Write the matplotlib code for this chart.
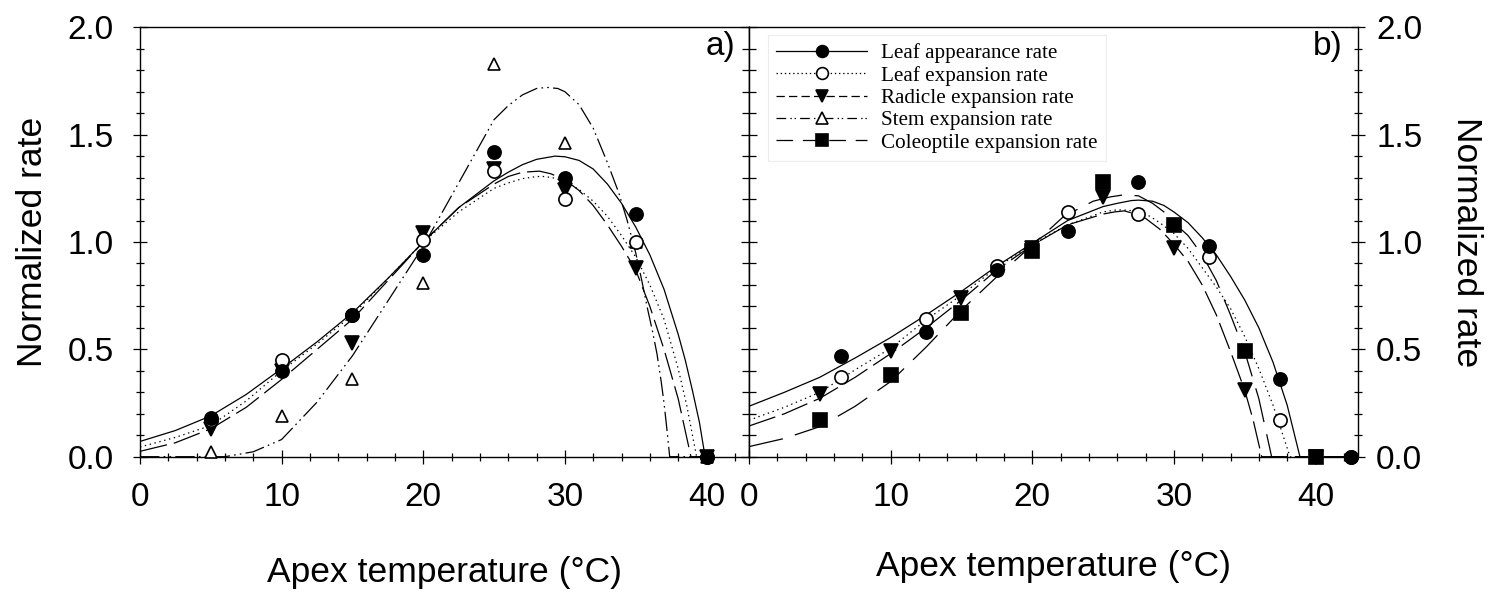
import matplotlib
matplotlib.use("Agg")
import matplotlib.pyplot as plt
from matplotlib.lines import Line2D
from matplotlib.ticker import MultipleLocator

plt.rcParams['font.family'] = ['Liberation Sans', 'DejaVu Sans']
plt.rcParams['lines.scale_dashes'] = False

# ---- panel a) measured points ----
temp_a = [5, 10, 15, 20, 25, 30, 35, 40]
a_leaf_app = [0.18, 0.40, 0.66, 0.94, 1.42, 1.30, 1.13, 0.0]
a_leaf_exp = [0.17, 0.45, 0.66, 1.01, 1.33, 1.20, 1.00, 0.0]
a_radicle = [0.13, 0.40, 0.53, 1.04, 1.34, 1.24, 0.88, 0.0]
a_stem = [0.02, 0.19, 0.36, 0.81, 1.83, 1.46, 1.00, 0.0]

# ---- panel a) fitted curves (read off the figure) ----
fa_leaf_app_t = [0, 2.5, 5, 7.5, 10, 12.5, 15, 17.5, 20, 22.5, 25, 26, 27, 28, 29.3, 30, 31, 32, 33, 34, 35, 36, 37, 38, 38.5, 39, 39.5, 39.9, 40]
fa_leaf_app_v = [0.071, 0.122, 0.19, 0.29, 0.41, 0.535, 0.67, 0.83, 1.0, 1.16, 1.285, 1.325, 1.36, 1.385, 1.40, 1.397, 1.38, 1.34, 1.27, 1.18, 1.07, 0.94, 0.78, 0.57, 0.45, 0.31, 0.16, 0.0, 0.0]
fa_leaf_exp_t = [0, 2.5, 5, 7.5, 10, 12.5, 15, 17.5, 20, 22.5, 25, 26, 27, 28, 28.6, 29.3, 30, 31, 32, 33, 34, 35, 36, 37, 38, 38.6, 39.3, 40]
fa_leaf_exp_v = [0.045, 0.09, 0.145, 0.26, 0.40, 0.525, 0.66, 0.83, 1.0, 1.14, 1.25, 1.275, 1.295, 1.305, 1.305, 1.297, 1.28, 1.245, 1.19, 1.12, 1.03, 0.93, 0.80, 0.64, 0.41, 0.24, 0.0, 0.0]
fa_radicle_t = [0, 2.5, 5, 7.5, 10, 12.5, 15, 17.5, 20, 22.5, 25, 26, 27, 28.2, 29, 30, 31, 32, 33, 34, 35, 36, 37, 38, 38.9, 40]
fa_radicle_v = [0.025, 0.065, 0.13, 0.23, 0.36, 0.50, 0.64, 0.82, 1.0, 1.16, 1.27, 1.305, 1.325, 1.33, 1.318, 1.29, 1.24, 1.17, 1.08, 0.98, 0.87, 0.70, 0.50, 0.27, 0.0, 0.0]
fa_stem_t = [0, 6, 8, 10, 12.5, 15, 17.5, 20, 22.5, 25, 26, 27, 28, 28.75, 29.5, 30, 31, 32, 33, 33.8, 34.4, 35, 35.4, 35.8, 36.2, 36.5, 36.8, 37, 37.2, 37.4, 40]
fa_stem_v = [0, 0, 0.023, 0.08, 0.254, 0.47, 0.725, 0.98, 1.275, 1.57, 1.635, 1.685, 1.715, 1.72, 1.715, 1.70, 1.64, 1.53, 1.37, 1.23, 1.10, 0.95, 0.83, 0.70, 0.58, 0.48, 0.35, 0.25, 0.13, 0.0, 0.0]

# ---- panel b) measured points ----
temp_b_leaf = [6.5, 12.5, 17.5, 22.5, 27.5, 32.5, 37.5, 42.5]
b_leaf_app = [0.47, 0.58, 0.87, 1.05, 1.28, 0.98, 0.36, 0.0]
b_leaf_exp = [0.37, 0.64, 0.89, 1.14, 1.13, 0.93, 0.17, 0.0]
temp_b_root = [5, 10, 15, 20, 25, 30, 35, 40]
b_radicle = [0.29, 0.49, 0.74, 0.97, 1.21, 0.97, 0.31, 0.0]
b_coleoptile = [0.17, 0.38, 0.67, 0.96, 1.28, 1.08, 0.49, 0.0]

# ---- panel b) fitted curves ----
fb_leaf_app_t = [0, 2.5, 5, 7.5, 10, 12.5, 15, 17.5, 20, 22.5, 25, 26, 27, 27.5, 28.5, 29.3, 30, 31, 32, 33, 34, 35, 36, 37, 38, 38.9, 42.5]
fb_leaf_app_v = [0.235, 0.30, 0.37, 0.46, 0.555, 0.66, 0.77, 0.888, 0.994, 1.10, 1.165, 1.18, 1.193, 1.195, 1.19, 1.17, 1.14, 1.09, 1.02, 0.94, 0.84, 0.73, 0.60, 0.44, 0.24, 0.0, 0.0]
fb_leaf_exp_t = [0, 2.5, 5, 7.5, 10, 12.5, 15, 17.5, 20, 22.5, 25, 26, 26.8, 27.5, 28.3, 29, 30, 31, 32, 33, 34, 35, 36, 37, 38.2, 42.5]
fb_leaf_exp_v = [0.17, 0.23, 0.30, 0.405, 0.505, 0.637, 0.753, 0.882, 0.99, 1.08, 1.14, 1.15, 1.148, 1.14, 1.12, 1.09, 1.04, 0.97, 0.88, 0.79, 0.69, 0.56, 0.41, 0.24, 0.0, 0.0]
fb_radicle_t = [0, 2.5, 5, 7.5, 10, 12.5, 15, 17.5, 20, 22.5, 25, 25.8, 26.5, 27.3, 28, 29, 30, 31, 32, 33, 34, 35, 35.6, 36.2, 42.5]
fb_radicle_v = [0.143, 0.20, 0.272, 0.37, 0.48, 0.60, 0.73, 0.87, 0.985, 1.08, 1.13, 1.14, 1.145, 1.13, 1.11, 1.06, 0.99, 0.91, 0.80, 0.66, 0.49, 0.31, 0.17, 0.0, 0.0]
fb_coleoptile_t = [0, 2.5, 5, 7.5, 10, 12.5, 15, 17.5, 20, 22.2, 24.3, 25.5, 26.5, 27.5, 28.5, 29.3, 30, 31, 32, 33, 34, 35, 36, 36.9, 42.5]
fb_coleoptile_v = [0.047, 0.085, 0.14, 0.235, 0.35, 0.51, 0.683, 0.838, 0.985, 1.118, 1.19, 1.21, 1.22, 1.215, 1.18, 1.14, 1.09, 1.03, 0.94, 0.82, 0.66, 0.49, 0.27, 0.0, 0.0]

labels = ["Leaf appearance rate", "Leaf expansion rate", "Radicle expansion rate",
          "Stem expansion rate", "Coleoptile expansion rate"]

LW = 0.9
curve_dash = {
    'leaf_app': '-',
    'leaf_exp': (0, (1.0, 2.6)),
    'radicle': (0, (20, 5)),
    'stem': (0, (14, 3, 1.2, 3, 1.2, 3)),
    'coleoptile': (0, (25, 9)),
}
mark = {
    'leaf_app': dict(marker='o', mfc='black', ms=9.5),
    'leaf_exp': dict(marker='o', mfc='white', ms=9.5),
    'radicle': dict(marker='v', mfc='black', ms=9.5),
    'stem': dict(marker='^', mfc='white', ms=9),
    'coleoptile': dict(marker='s', mfc='black', ms=9.5),
}


def draw_curve(ax, t, v, key):
    ax.plot(t, v, color='black', lw=LW, ls=curve_dash[key])


def draw_points(ax, t, v, key):
    ax.plot(t, v, ls='none', color='black', mec='black', mew=1.2,
            clip_on=False, zorder=5, **mark[key])


fig = plt.figure(figsize=(15.01, 5.98), dpi=100)
ax1 = fig.add_axes([140 / 1501, 141.3 / 598, 609 / 1501, 429.4 / 598])
ax2 = fig.add_axes([749 / 1501, 141.3 / 598, 609 / 1501, 429.4 / 598])

# panel a
draw_curve(ax1, fa_leaf_app_t, fa_leaf_app_v, 'leaf_app')
draw_curve(ax1, fa_leaf_exp_t, fa_leaf_exp_v, 'leaf_exp')
draw_curve(ax1, fa_radicle_t, fa_radicle_v, 'radicle')
draw_curve(ax1, fa_stem_t, fa_stem_v, 'stem')
draw_points(ax1, temp_a, a_stem, 'stem')
draw_points(ax1, temp_a, a_radicle, 'radicle')
draw_points(ax1, temp_a, a_leaf_exp, 'leaf_exp')
draw_points(ax1, temp_a, a_leaf_app, 'leaf_app')

# panel b
draw_curve(ax2, fb_leaf_app_t, fb_leaf_app_v, 'leaf_app')
draw_curve(ax2, fb_leaf_exp_t, fb_leaf_exp_v, 'leaf_exp')
draw_curve(ax2, fb_radicle_t, fb_radicle_v, 'radicle')
draw_curve(ax2, fb_coleoptile_t, fb_coleoptile_v, 'coleoptile')
draw_points(ax2, temp_b_root, b_radicle, 'radicle')
draw_points(ax2, temp_b_root, b_coleoptile, 'coleoptile')
draw_points(ax2, temp_b_leaf, b_leaf_exp, 'leaf_exp')
draw_points(ax2, temp_b_leaf, b_leaf_app, 'leaf_app')

for ax in (ax1, ax2):
    ax.set_xlim(0, 43)
    ax.set_ylim(0, 2.0)
    ax.xaxis.set_major_locator(MultipleLocator(10))
    ax.xaxis.set_minor_locator(MultipleLocator(2))
    ax.yaxis.set_major_locator(MultipleLocator(0.5))
    ax.yaxis.set_minor_locator(MultipleLocator(0.1))
    ax.xaxis.set_major_formatter(plt.FormatStrFormatter('%d'))
    ax.yaxis.set_major_formatter(plt.FormatStrFormatter('%.1f'))
    ax.tick_params(axis='x', which='both', direction='inout', top=False, labelsize=24, pad=13)
    ax.tick_params(axis='x', which='major', length=10, width=0.9)
    ax.tick_params(axis='x', which='minor', length=6, width=0.9)
    for sp in ax.spines.values():
        sp.set_linewidth(1.0)
    ax.set_xlabel("Apex temperature (°C)", fontsize=25.5)

# y ticks panel a: crossing on left with labels, inward on right
ax1.tick_params(axis='y', which='both', direction='inout', left=True, right=False,
                labelsize=24, pad=14)
ax1.tick_params(axis='y', which='major', length=10, width=0.9)
ax1.tick_params(axis='y', which='minor', length=6, width=0.9)
ax1r = ax1.secondary_yaxis('right')
ax1r.yaxis.set_major_locator(MultipleLocator(0.5))
ax1r.yaxis.set_minor_locator(MultipleLocator(0.1))
ax1r.tick_params(axis='y', which='both', direction='in', labelright=False, width=0.9)
ax1r.tick_params(axis='y', which='major', length=6)
ax1r.tick_params(axis='y', which='minor', length=5)
ax1.set_ylabel("Normalized rate", fontsize=25.5, labelpad=13)
ax1.xaxis.labelpad = 31
ax1.text(0.978, 0.955, "a)", transform=ax1.transAxes, ha='right', va='center', fontsize=24)

# y ticks panel b: inward on left, crossing on right with labels
ax2.yaxis.tick_right()
ax2.yaxis.set_label_position('right')
ax2.tick_params(axis='y', which='both', direction='inout', left=False, right=True,
                labelleft=False, labelright=True, labelsize=24, pad=8)
ax2.tick_params(axis='y', which='major', length=10, width=0.9)
ax2.tick_params(axis='y', which='minor', length=6, width=0.9)
ax2l = ax2.secondary_yaxis('left')
ax2l.yaxis.set_major_locator(MultipleLocator(0.5))
ax2l.yaxis.set_minor_locator(MultipleLocator(0.1))
ax2l.tick_params(axis='y', which='both', direction='in', labelleft=False, width=0.9)
ax2l.tick_params(axis='y', which='major', length=6)
ax2l.tick_params(axis='y', which='minor', length=5)
ax2.set_ylabel("Normalized rate", fontsize=25.5, rotation=270, labelpad=44)
ax2.xaxis.labelpad = 27
ax2.text(0.975, 0.955, "b)", transform=ax2.transAxes, ha='right', va='center', fontsize=24)

# legend (proxy handles with the legend's own short dash patterns)
handles = [
    Line2D([], [], color='black', lw=LW, ls='-', **mark['leaf_app']),
    Line2D([], [], color='black', lw=LW, ls=(0, (1, 2)), **mark['leaf_exp']),
    Line2D([], [], color='black', lw=LW, ls=(0, (6, 3)), **mark['radicle']),
    Line2D([], [], color='black', lw=LW, ls=(0, (7, 3, 1, 2, 1, 3)), **mark['stem']),
    Line2D([], [], color='black', lw=LW, ls=(0, (12, 7)), **mark['coleoptile']),
]
for h in handles:
    h.set_markeredgecolor('black')
    h.set_markeredgewidth(1.2)
    h.set_markersize(8.5)
leg = ax2.legend(handles, labels, loc='upper left', bbox_to_anchor=(0.031, 0.982),
                 prop={'family': 'Liberation Serif', 'size': 15.2},
                 handlelength=4.3, handletextpad=0.65, labelspacing=0.12,
                 borderpad=0.4, borderaxespad=0, frameon=True, fancybox=False,
                 edgecolor='#ececec', framealpha=1)
leg.get_frame().set_linewidth(0.8)

fig.savefig("out.png", dpi=100)
